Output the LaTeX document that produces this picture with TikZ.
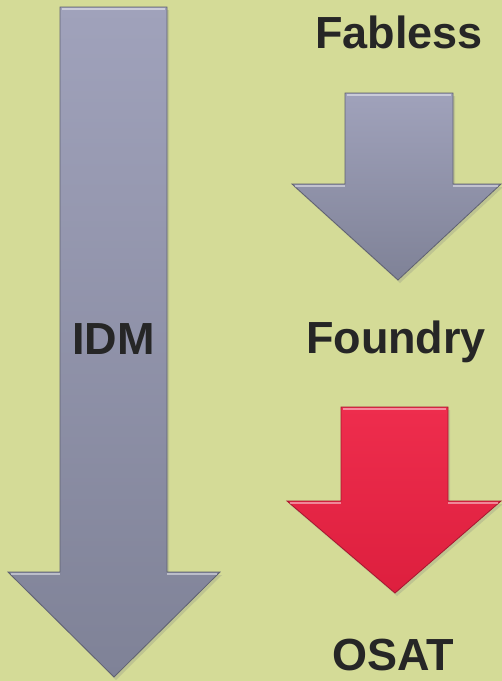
\documentclass[tikz,border=0pt]{standalone}
\usepackage{fontspec}
\setmainfont{Liberation Sans}
\usetikzlibrary{shadows}
\definecolor{bgolive}{HTML}{D4DB97}
\definecolor{greytop}{HTML}{A0A2BB}
\definecolor{greybot}{HTML}{7F8297}
\definecolor{redtop}{HTML}{EE2D4D}
\definecolor{redbot}{HTML}{DD1F3E}
\tikzset{
  arrowbody/.style={draw=#1!75!black, line width=.8pt, line join=miter,
    drop shadow={shadow xshift=2pt, shadow yshift=-3pt, opacity=.25}},
  greyarrow/.style={arrowbody=greybot, top color=greytop, bottom color=greybot},
  redarrow/.style={arrowbody=redbot, top color=redtop, bottom color=redbot},
  bevel/.style={white, opacity=.45, line width=2pt},
  tag/.style={font=\bfseries\fontsize{45}{45}\selectfont, text=black!85, inner sep=0pt,
    text depth=0pt, anchor=base}
}
\begin{document}
\begin{tikzpicture}[x=1pt,y=-1pt]
\fill[bgolive] (0,0) rectangle (502,681);
\useasboundingbox (0,0) rectangle (502,681);

% long arrow (IDM)
\path[greyarrow] (60,7) -- (167,7) -- (167,572) -- (220,572) -- (114,677)
  -- (8,572) -- (60,572) -- cycle;
\draw[bevel] (62,9) -- (165,9);
\draw[bevel] (11,574) -- (60,574);
\draw[bevel] (167,574) -- (217,574);

% Fabless -> Foundry
\path[greyarrow] (345,93) -- (453,93) -- (453,184) -- (501,184) -- (398,280)
  -- (292,184) -- (345,184) -- cycle;
\draw[bevel] (347,95) -- (451,95);
\draw[bevel] (295,186) -- (345,186);
\draw[bevel] (453,186) -- (498,186);

% Foundry -> OSAT
\path[redarrow] (341,407) -- (448,407) -- (448,501) -- (501,501) -- (395,593)
  -- (287,501) -- (341,501) -- cycle;
\draw[bevel] (343,409) -- (446,409);
\draw[bevel] (290,503) -- (341,503);
\draw[bevel] (448,503) -- (498,503);

\node[tag] (idm) at (113.5,354) {IDM};
\node[tag] (fabless) at (399,48) {Fabless};
\node[tag] (foundry) at (396,353) {Foundry};
\node[tag] (osat) at (393,670) {OSAT};
\end{tikzpicture}
\end{document}
